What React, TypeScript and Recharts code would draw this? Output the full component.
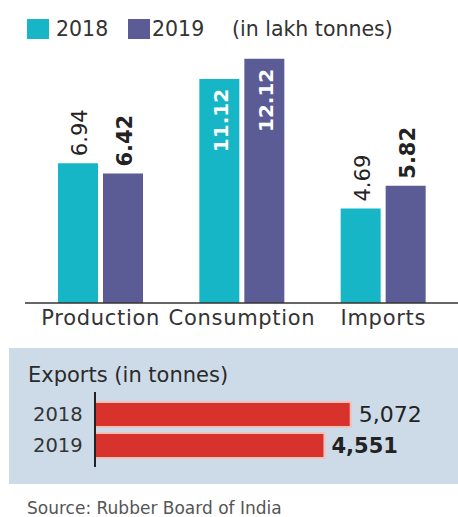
import React from 'react';
import { BarChart, Bar, XAxis, YAxis, LabelList } from 'recharts';

const categories = ['Production', 'Consumption', 'Imports'];
const values2018 = [6.94, 11.12, 4.69];
const values2019 = [6.42, 12.12, 5.82];

const exportYears = ['2018', '2019'];
const exportValues = [5072, 4551];

const CYAN = '#17b6c6';
const PURPLE = '#5b5b96';
const RED = '#d7322b';
const FONT = "'DejaVu Sans', sans-serif";

const mainData = categories.map((name, i) => ({
  name,
  y2018: values2018[i],
  y2019: values2019[i],
}));

const exportData = exportYears.map((year, i) => ({ year, value: exportValues[i] }));

// rotated value label; the tallest group gets its value inside the bar
const makeVLabel = (boldOutside: boolean) => (props: any) => {
  const { x, y, width, value, index } = props;
  const cx = x + width / 2 + 2;
  const inside = index === 1;
  const ay = inside ? y + 10 : y - 7;
  return (
    <text
      x={cx}
      y={ay}
      transform={`rotate(-90, ${cx}, ${ay})`}
      textAnchor={inside ? 'end' : 'start'}
      dominantBaseline="central"
      fontFamily={FONT}
      fontSize={inside ? 20 : 21}
      fontWeight={inside || boldOutside ? 'bold' : 'normal'}
      fill={inside ? '#ffffff' : '#222222'}
    >
      {value.toFixed(2)}
    </text>
  );
};

const CategoryTick = (props: any) => {
  const { x, y, payload } = props;
  return (
    <text
      x={x}
      y={y}
      dy={22}
      textAnchor="middle"
      fontFamily={FONT}
      fontSize={21}
      letterSpacing={0.7}
      fill="#333333"
    >
      {payload.value}
    </text>
  );
};

const YearTick = (props: any) => {
  const { y, payload } = props;
  return (
    <text x={33} y={y} dominantBaseline="central" fontFamily={FONT} fontSize={19.5} fill="#333333">
      {payload.value}
    </text>
  );
};

const ExportLabel = (props: any) => {
  const { x, y, width, height, value, index } = props;
  const bold = index === 1;
  return (
    <text
      x={x + width + (bold ? 7 : 8)}
      y={y + height / 2}
      dominantBaseline="central"
      fontFamily={FONT}
      fontSize={bold ? 21 : 22}
      fontWeight={bold ? 'bold' : 'normal'}
      fill="#222222"
    >
      {value.toLocaleString('en-US')}
    </text>
  );
};

const legendText: React.CSSProperties = {
  position: 'absolute',
  top: 16,
  fontFamily: FONT,
  fontSize: 20.5,
  color: '#333333',
  lineHeight: '26px',
  whiteSpace: 'nowrap',
};

export default function App() {
  return (
    <div style={{ position: 'absolute', left: 0, top: 0, width: 458, height: 517, background: '#ffffff', overflow: 'hidden' }}>
      {/* legend */}
      <div style={{ position: 'absolute', left: 27, top: 19, width: 22, height: 20, background: CYAN }} />
      <div style={{ ...legendText, left: 56 }}>2018</div>
      <div style={{ position: 'absolute', left: 128, top: 19, width: 22, height: 20, background: PURPLE }} />
      <div style={{ ...legendText, left: 152 }}>2019</div>
      <div style={{ ...legendText, left: 232 }}>(in lakh tonnes)</div>

      <div style={{ position: 'absolute', left: 0, top: 0 }}>
        <BarChart
          width={458}
          height={340}
          data={mainData}
          margin={{ top: 41, right: 0, left: 25, bottom: 7 }}
          barSize={40}
          barGap={5}
        >
          <XAxis
            dataKey="name"
            height={30}
            axisLine={{ stroke: '#333333', strokeWidth: 1.5 }}
            tickLine={false}
            tickSize={0}
            tickMargin={0}
            padding={{ left: 5, right: 4 }}
            tick={<CategoryTick />}
            interval={0}
          />
          <YAxis hide domain={[0, 13]} />
          <Bar dataKey="y2018" fill={CYAN} isAnimationActive={false}>
            <LabelList dataKey="y2018" content={makeVLabel(false)} />
          </Bar>
          <Bar dataKey="y2019" fill={PURPLE} isAnimationActive={false}>
            <LabelList dataKey="y2019" content={makeVLabel(true)} />
          </Bar>
        </BarChart>
      </div>

      {/* exports panel */}
      <div style={{ position: 'absolute', left: 9, top: 348, width: 449, height: 136, background: '#cddbe9' }} />
      <div
        style={{
          position: 'absolute',
          left: 28,
          top: 362,
          fontFamily: FONT,
          fontSize: 21,
          color: '#2a2a2a',
          lineHeight: '26px',
          whiteSpace: 'nowrap',
        }}
      >
        Exports (in tonnes)
      </div>
      <div style={{ position: 'absolute', left: 0, top: 348 }}>
        <BarChart
          layout="vertical"
          width={458}
          height={136}
          data={exportData}
          margin={{ top: 44, right: 0, left: 0, bottom: 17 }}
          barSize={25}
        >
          <XAxis type="number" hide domain={[0, 7200]} />
          <YAxis
            type="category"
            dataKey="year"
            width={95}
            axisLine={{ stroke: '#222222', strokeWidth: 2 }}
            tickLine={false}
            tick={<YearTick />}
            padding={{ top: 7, bottom: 6 }}
          />
          <Bar dataKey="value" fill={RED} stroke="#f3c0ba" strokeWidth={2} isAnimationActive={false}>
            <LabelList dataKey="value" content={<ExportLabel />} />
          </Bar>
        </BarChart>
      </div>

      <div
        style={{
          position: 'absolute',
          left: 27,
          top: 498,
          fontFamily: FONT,
          fontSize: 17,
          color: '#555555',
          lineHeight: '20px',
          whiteSpace: 'nowrap',
        }}
      >
        Source: Rubber Board of India
      </div>
    </div>
  );
}
